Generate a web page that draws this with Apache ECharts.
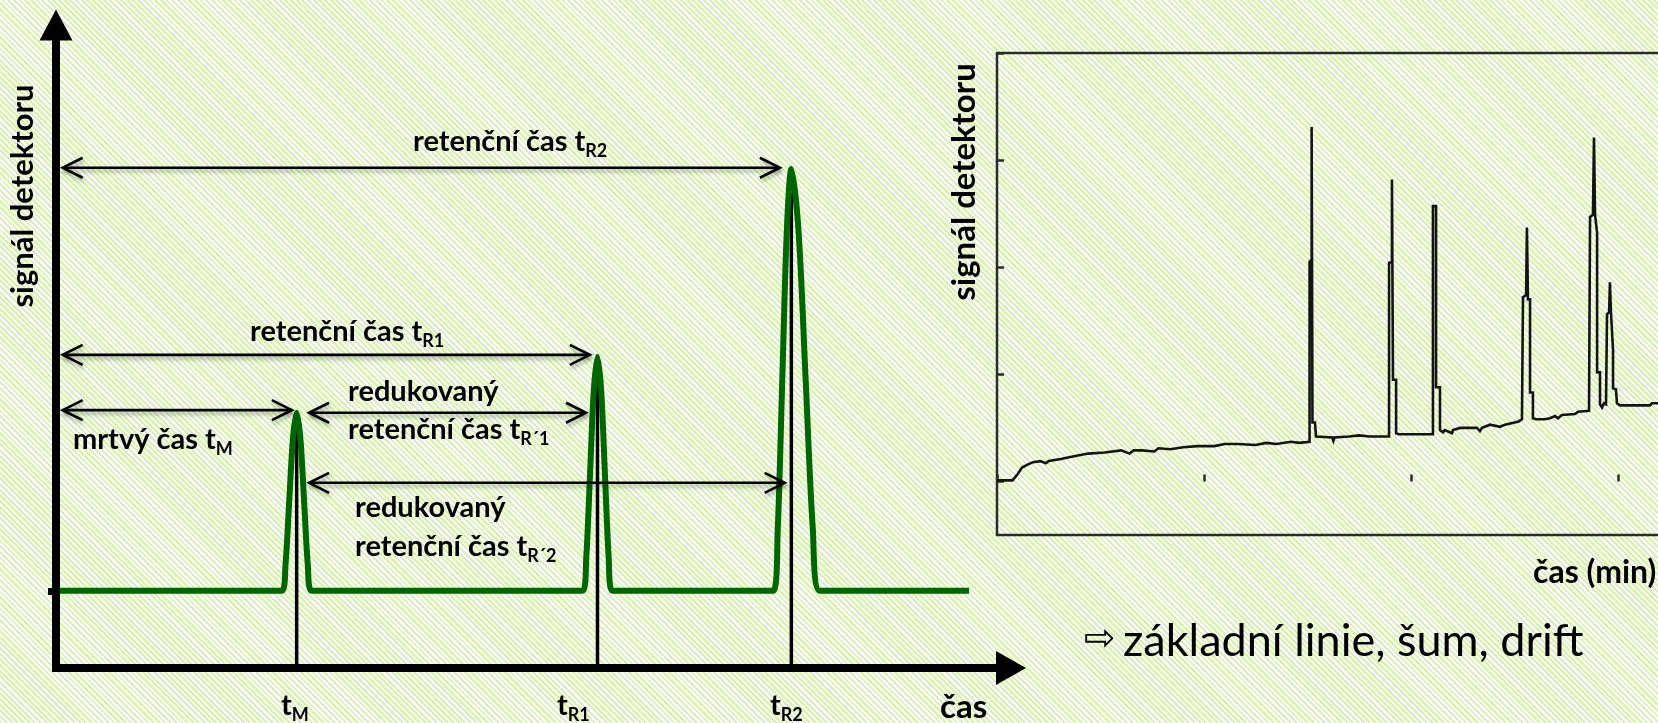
<!DOCTYPE html>
<html>
<head>
<meta charset="utf-8">
<script src="https://cdn.jsdelivr.net/npm/echarts@6/dist/echarts.min.js"></script>
<style>
  html, body { margin: 0; padding: 0; }
  body {
    width: 1658px; height: 723px; overflow: hidden;
    background: #ffffff repeating-linear-gradient(45deg, #d6f4b0 0px, #d6f4b0 2px, #ffffff 2px, #ffffff 4px);
  }
  #chart { width: 1658px; height: 723px; }
</style>
</head>
<body>
<div id="chart"></div>
<script>
// ---------- left diagram: idealised chromatogram ----------
const baselineLevel = 1.2;
const baselineStart = 0.04;
const baselineEnd = 9.56;
const peakTimes = [2.52, 5.67, 7.70];          // t_M, t_R1, t_R2
const stickTops = [3.81, 4.71, 7.39];

const peakMX  = [2.364, 2.403, 2.442, 2.481, 2.52, 2.559, 2.598, 2.637, 2.676];
const peakMY  = [1.2, 1.60, 2.59, 3.57, 3.97, 3.57, 2.59, 1.60, 1.2];
const peakR1X = [5.514, 5.553, 5.592, 5.631, 5.67, 5.709, 5.748, 5.787, 5.826];
const peakR1Y = [1.2, 1.73, 3.02, 4.31, 4.84, 4.31, 3.02, 1.73, 1.2];
const peakR2X = [7.51, 7.5575, 7.605, 7.6525, 7.70, 7.775, 7.85, 7.925, 8.00];
const peakR2Y = [1.2, 2.16, 4.48, 6.80, 7.76, 6.80, 4.48, 2.16, 1.2];

// double-headed time arrows: from, to, level
const arrowFrom  = [0.07, 0.07, 0.07, 2.65, 2.65];
const arrowTo    = [7.58, 5.59, 2.47, 5.55, 7.63];
const arrowLevel = [7.78, 4.87, 4.01, 3.97, 2.88];

// ---------- right diagram: recorded chromatogram ----------
const traceTime = [
  0.000, 0.075, 0.100, 0.121, 0.150, 0.174, 0.210, 0.235, 0.250, 0.309,
  0.360, 0.440, 0.520, 0.600, 0.640, 0.660, 0.700, 0.760, 0.780, 0.836,
  0.900, 0.966, 1.050, 1.100, 1.164, 1.250, 1.300, 1.350, 1.420, 1.460,
  1.510, 1.510, 1.520, 1.520, 1.524, 1.524, 1.536, 1.541, 1.620, 1.625,
  1.630, 1.700, 1.750, 1.800, 1.894, 1.894, 1.908, 1.908, 1.913, 1.913,
  1.928, 1.928, 1.942, 2.060, 2.106, 2.106, 2.121, 2.121, 2.140, 2.140,
  2.155, 2.164, 2.198, 2.203, 2.237, 2.319, 2.333, 2.343, 2.382, 2.430,
  2.454, 2.520, 2.536, 2.541, 2.556, 2.560, 2.565, 2.575, 2.575, 2.589,
  2.589, 2.604, 2.647, 2.671, 2.696, 2.710, 2.729, 2.792, 2.807, 2.860,
  2.865, 2.879, 2.884, 2.889, 2.899, 2.899, 2.913, 2.913, 2.923, 2.932,
  2.942, 2.947, 2.957, 2.961, 2.966, 2.976, 2.976, 2.990, 2.995, 3.010,
  3.155, 3.164, 3.300
];
const traceSignal = [
  0.01, 0.01, 0.07, 0.13, 0.16, 0.18, 0.19, 0.17, 0.19, 0.21,
  0.23, 0.26, 0.27, 0.29, 0.26, 0.29, 0.29, 0.28, 0.31, 0.30,
  0.32, 0.33, 0.33, 0.35, 0.35, 0.34, 0.36, 0.35, 0.37, 0.36,
  0.37, 2.05, 2.07, 3.31, 3.31, 0.55, 0.55, 0.42, 0.41, 0.38,
  0.41, 0.42, 0.43, 0.42, 0.42, 2.04, 2.05, 2.82, 2.82, 0.95,
  0.95, 0.45, 0.44, 0.44, 0.44, 2.57, 2.57, 0.88, 0.88, 0.48,
  0.46, 0.48, 0.45, 0.48, 0.50, 0.50, 0.47, 0.50, 0.53, 0.51,
  0.53, 0.56, 0.58, 1.72, 1.74, 2.37, 1.70, 1.70, 0.83, 0.83,
  0.59, 0.58, 0.58, 0.59, 0.61, 0.59, 0.62, 0.63, 0.65, 0.66,
  2.47, 2.49, 3.21, 2.49, 2.32, 1.02, 1.02, 0.72, 0.69, 0.73,
  0.72, 1.56, 1.58, 1.86, 1.58, 1.23, 0.87, 0.86, 0.73, 0.71,
  0.71, 0.73, 0.73
];
const traceTicksY = [0, 1, 2, 3, 4];

// ---------- build series data ----------
const peaks = [[peakMX, peakMY], [peakR1X, peakR1Y], [peakR2X, peakR2Y]];
const greenPath = [[baselineStart, baselineLevel]];
peaks.forEach(([xs, ys]) => xs.forEach((x, i) => greenPath.push([x, ys[i]])));
greenPath.push([baselineEnd, baselineLevel]);

const sticks = peakTimes.map((t, i) => ({
  type: 'line', xAxisIndex: 0, yAxisIndex: 0, z: 2,
  data: [[t, 0], [t, stickTops[i]]],
  symbol: 'none', silent: true,
  lineStyle: { color: '#000', width: 3.5 }
}));

function renderArrow(params, api) {
  const a = api.coord([api.value(0), api.value(2)]);
  const b = api.coord([api.value(1), api.value(2)]);
  const L = 20, H = 10;
  const st = {
    stroke: '#000', fill: null, lineWidth: 2.6, lineJoin: 'miter',
    shadowBlur: 4, shadowColor: 'rgba(0,0,0,0.35)', shadowOffsetX: 1, shadowOffsetY: 3
  };
  return {
    type: 'group',
    children: [
      { type: 'line', shape: { x1: a[0], y1: a[1], x2: b[0], y2: b[1] }, style: st },
      { type: 'polyline', shape: { points: [[a[0] + L, a[1] - H], [a[0], a[1]], [a[0] + L, a[1] + H]] }, style: st },
      { type: 'polyline', shape: { points: [[b[0] - L, b[1] - H], [b[0], b[1]], [b[0] - L, b[1] + H]] }, style: st }
    ]
  };
}

// ---------- text helpers ----------
const FONT = 'Lato';
const richStyles = {
  b: { fontFamily: FONT, fontWeight: 'bold', fontSize: 29, lineHeight: 36, fill: '#000' },
  s: { fontFamily: FONT, fontWeight: 'bold', fontSize: 18, lineHeight: 15, verticalAlign: 'bottom', fill: '#000' }
};
function label(x, y, main, sub) {
  const text = '{b|' + main + '}' + (sub ? '{s|' + sub + '}' : '');
  return {
    type: 'text', x: x, y: y, silent: true,
    style: { text: text, rich: richStyles, align: 'left', verticalAlign: 'middle' }
  };
}
function plain(x, y, text, size, align) {
  return {
    type: 'text', x: x, y: y, silent: true,
    style: { text: text, fontFamily: FONT, fontWeight: 'bold', fontSize: size, fill: '#000',
      align: align || 'left', verticalAlign: 'middle' }
  };
}
function vertical(x, y, text, size) {
  return {
    type: 'text', x: x, y: y, rotation: Math.PI / 2, silent: true,
    style: {
      text: text, fontFamily: FONT, fontWeight: 'bold', fontSize: size, fill: '#000',
      align: 'center', verticalAlign: 'middle'
    }
  };
}

const chart = echarts.init(document.getElementById('chart'), null, { renderer: 'canvas' });
chart.setOption({
  backgroundColor: 'transparent',
  animation: false,
  grid: [
    { left: 56, top: 25, width: 955, height: 643, outerBoundsMode: 'none', containLabel: false },
    { left: 997, top: 53, width: 828, height: 482, show: true, outerBoundsMode: 'none', containLabel: false,
      borderColor: '#2b2b2b', borderWidth: 2.5, backgroundColor: 'transparent' }
  ],
  xAxis: [
    {
      type: 'value', gridIndex: 0, min: 0, max: 10,
      axisLine: { show: true, onZero: true, symbol: ['none', 'triangle'], symbolSize: [34, 30],
        lineStyle: { color: '#000', width: 8, cap: 'square' } },
      axisTick: { show: false }, axisLabel: { show: false }, splitLine: { show: false }
    },
    {
      type: 'value', gridIndex: 1, min: 0, max: 4, interval: 1,
      axisLine: { show: false },
      axisTick: { show: true, inside: true, length: 7, lineStyle: { color: '#2b2b2b', width: 2.5 } },
      axisLabel: { show: false }, splitLine: { show: false }
    }
  ],
  yAxis: [
    {
      type: 'value', gridIndex: 0, min: 0, max: 10,
      axisLine: { show: true, symbol: ['none', 'triangle'], symbolSize: [33, 31],
        lineStyle: { color: '#000', width: 8, cap: 'square' } },
      axisTick: { show: true, customValues: [baselineLevel], length: 8,
        lineStyle: { color: '#000', width: 7 } },
      axisLabel: { show: false }, splitLine: { show: false }
    },
    {
      type: 'value', gridIndex: 1, min: -0.5, max: 4,
      axisLine: { show: false },
      axisTick: { show: true, inside: true, length: 7, customValues: traceTicksY,
        lineStyle: { color: '#2b2b2b', width: 2.5 } },
      axisLabel: { show: false }, splitLine: { show: false }
    }
  ],
  series: [
    ...sticks,
    {
      type: 'line', xAxisIndex: 0, yAxisIndex: 0, z: 3,
      data: greenPath, smooth: 0.3, symbol: 'none', silent: true,
      lineStyle: { color: '#006600', width: 6, join: 'round' }
    },
    {
      type: 'custom', xAxisIndex: 0, yAxisIndex: 0, z: 5, silent: true, clip: false,
      renderItem: renderArrow,
      encode: { x: [0, 1], y: 2 },
      data: arrowFrom.map((f, i) => [f, arrowTo[i], arrowLevel[i]])
    },
    {
      type: 'line', xAxisIndex: 1, yAxisIndex: 1, z: 3,
      data: traceTime.map((t, i) => [t, traceSignal[i]]),
      symbol: 'none', silent: true, clip: true,
      lineStyle: { color: '#141414', width: 2.6, join: 'miter' }
    }
  ],
  graphic: [
    vertical(23, 196, 'signál detektoru', 31),
    label(413, 142, 'retenční čas t', 'R2'),
    label(250, 332, 'retenční čas t', 'R1'),
    label(73, 440, 'mrtvý čas t', 'M'),
    label(348, 392, 'redukovaný'),
    label(348, 430, 'retenční čas t', 'R´1'),
    label(355, 508, 'redukovaný'),
    label(355, 547, 'retenční čas t', 'R´2'),
    label(281, 706, 't', 'M'),
    label(557, 706, 't', 'R1'),
    label(770, 706, 't', 'R2'),
    plain(940, 707, 'čas', 33),
    vertical(964, 182, 'signál detektoru', 33),
    plain(1533, 573, 'čas (min)', 32),
    {
      type: 'text', x: 1100, y: 640, silent: true,
      style: { text: '⇨', fontFamily: 'DejaVu Sans', fontSize: 38, fill: '#000',
        align: 'center', verticalAlign: 'middle' }
    },
    {
      type: 'text', x: 1123, y: 641, silent: true,
      style: { text: 'základní linie, šum, drift', fontFamily: FONT, fontSize: 45, fill: '#000',
        align: 'left', verticalAlign: 'middle' }
    }
  ]
});
</script>
</body>
</html>
